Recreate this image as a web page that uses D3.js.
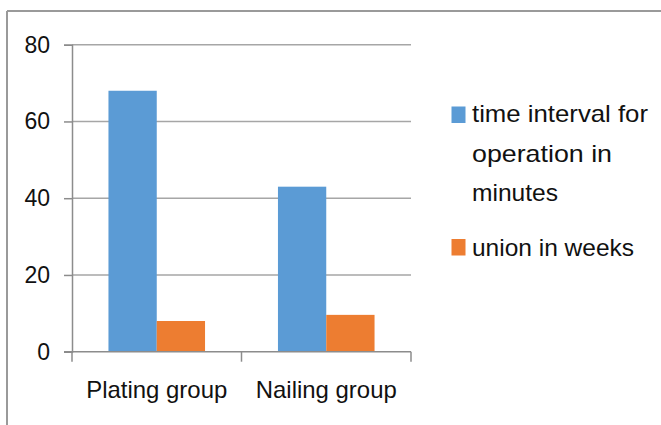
<html>
<script src='https://d3js.org/d3.v7.min.js'></script>
<style>
  body { margin: 0; background: #fff; }
  text { font-family: 'Liberation Sans', Arial, sans-serif; fill: #111; }
</style>
<body onload='init()'>
<svg width=661 height=425></svg>
<script>
var groups = ["Plating group", "Nailing group"];
var seriesNames = ["time interval for operation in minutes", "union in weeks"];
var timeInterval = [68, 43];
var unionWeeks = [8, 9.6];
var yTicks = [0, 20, 40, 60, 80];
var legendLines = [["time interval for", "operation in", "minutes"], ["union in weeks"]];
var colors = ["#5b9bd5", "#ed7d31"];

function init() {
	var svg = d3.select("svg");
	var left = 72, right = 411, top = 44.7, bottom = 351.7;

	// outer frame (top and left edges only)
	svg.append("line").attr("x1", 7).attr("x2", 661).attr("y1", 11).attr("y2", 11)
		.attr("stroke", "#9a9a9a").attr("stroke-width", 2);
	svg.append("line").attr("x1", 7).attr("x2", 7).attr("y1", 11).attr("y2", 425)
		.attr("stroke", "#9a9a9a").attr("stroke-width", 2);

	var x0 = d3.scaleBand().domain(groups).range([left, right]).paddingInner(0).paddingOuter(0);
	var x1 = d3.scaleBand().domain([0, 1]).range([0, x0.bandwidth()]).paddingOuter(0.755).paddingInner(0);
	var y = d3.scaleLinear().domain([0, 80]).range([bottom, top]);

	// gridlines
	svg.append("g").selectAll("line").data(yTicks.filter(d => d > 0)).enter().append("line")
		.attr("x1", left).attr("x2", right)
		.attr("y1", d => y(d)).attr("y2", d => y(d))
		.attr("stroke", "#a6a6a6").attr("stroke-width", 1.5);

	// bars
	var data = groups.map((g, i) => ({g: g, v: [timeInterval[i], unionWeeks[i]]}));
	svg.append("g").selectAll("g").data(data).enter().append("g")
		.attr("transform", d => "translate(" + x0(d.g) + ",0)")
		.selectAll("rect").data(d => d.v.map((v, j) => ({v: v, j: j}))).enter().append("rect")
		.attr("x", d => x1(d.j))
		.attr("width", x1.bandwidth())
		.attr("y", d => y(d.v))
		.attr("height", d => bottom - y(d.v))
		.attr("fill", d => colors[d.j]);

	// y axis
	var yAxis = svg.append("g").attr("transform", "translate(" + left + ",0)")
		.call(d3.axisLeft(y).tickValues(yTicks).tickSize(8).tickPadding(14));
	yAxis.select(".domain").attr("stroke", "#8c8c8c").attr("stroke-width", 1.5);
	yAxis.selectAll(".tick line").attr("stroke", "#8c8c8c").attr("stroke-width", 1.5);
	yAxis.selectAll("text").style("font-size", "23px").attr("fill", "#111")
		.style("font-family", "'Liberation Sans', Arial, sans-serif");

	// x axis
	var xAxisG = svg.append("g");
	xAxisG.append("line").attr("x1", 64).attr("x2", right).attr("y1", bottom).attr("y2", bottom)
		.attr("stroke", "#8c8c8c").attr("stroke-width", 1.5);
	var bounds = groups.map(g => x0(g)).concat([right]);
	xAxisG.selectAll(".xt").data(bounds).enter().append("line")
		.attr("x1", d => d).attr("x2", d => d).attr("y1", bottom).attr("y2", bottom + 10)
		.attr("stroke", "#8c8c8c").attr("stroke-width", 1.5);
	xAxisG.selectAll("text").data(groups).enter().append("text")
		.attr("x", d => x0(d) + x0.bandwidth() / 2).attr("y", 398)
		.attr("text-anchor", "middle").style("font-size", "24px")
		.attr("textLength", 141).attr("lengthAdjust", "spacingAndGlyphs")
		.text(d => d);

	// legend
	var legTops = [106.5, 239];
	var lineY = [[122, 162, 201], [256]];
	var lineW = [[176, 140, 86], [162]];
	legendLines.forEach(function(lines, i) {
		svg.append("rect").attr("x", 451.5).attr("y", legTops[i]).attr("width", 14).attr("height", 16.5)
			.attr("fill", colors[i]);
		svg.append("g").selectAll("text").data(lines).enter().append("text")
			.attr("x", 472).attr("y", (d, k) => lineY[i][k])
			.attr("textLength", (d, k) => lineW[i][k]).attr("lengthAdjust", "spacingAndGlyphs")
			.style("font-size", "24px").text(d => d);
	});
}
</script>
</body>
</html>
